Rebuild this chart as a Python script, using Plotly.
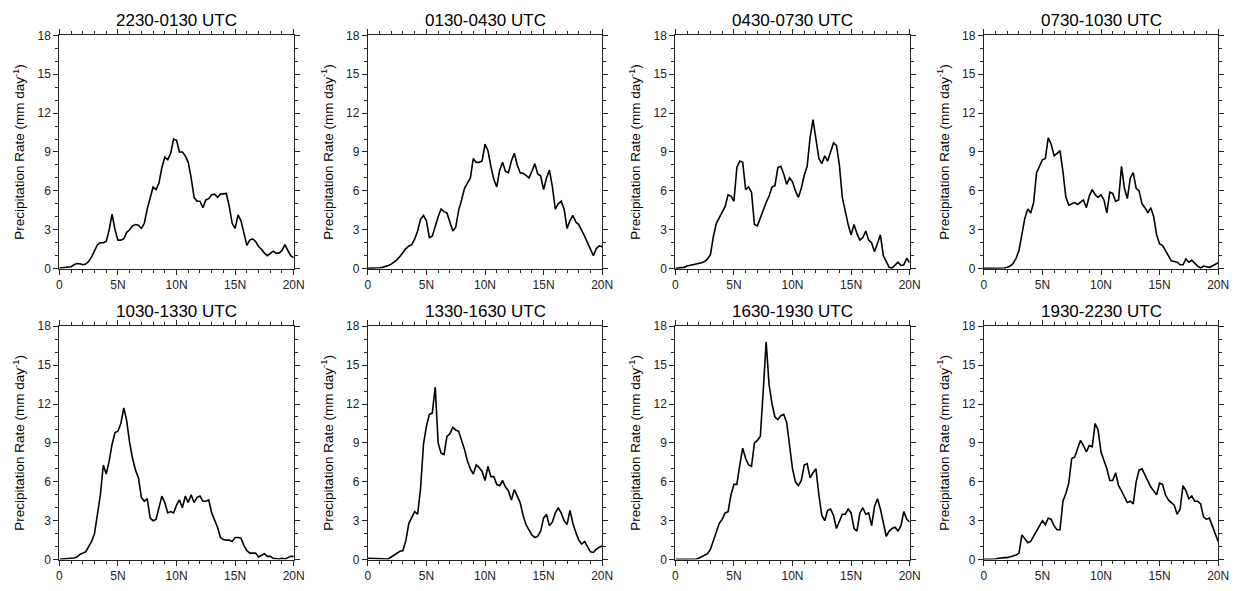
import plotly.graph_objects as go

# Latitude grid (degrees north), 0.25-degree spacing
lat = [i * 0.25 for i in range(81)]

titles = ["2230-0130 UTC", "0130-0430 UTC", "0430-0730 UTC", "0730-1030 UTC",
          "1030-1330 UTC", "1330-1630 UTC", "1630-1930 UTC", "1930-2230 UTC"]

x_tickvals = [0, 5, 10, 15, 20]
x_ticktext = ["0", "5N", "10N", "15N", "20N"]
y_tickvals = [0, 3, 6, 9, 12, 15, 18]

# Zonal-mean precipitation rate (mm/day) for each 3-hour window
p_2230_0130 = [0.05, 0.08, 0.08, 0.1, 0.15, 0.3, 0.4, 0.38, 0.3, 0.35,
               0.55, 0.9, 1.4, 1.85, 2.0, 2.0, 2.1, 3.0, 4.2, 3.0,
               2.2, 2.2, 2.3, 2.8, 3.0, 3.3, 3.4, 3.35, 3.1, 3.5,
               4.6, 5.5, 6.3, 6.1, 6.6, 7.8, 8.6, 8.4, 8.9, 10.0,
               9.9, 9.0, 9.0, 8.7, 8.2, 7.0, 5.5, 5.2, 5.2, 4.7,
               5.3, 5.4, 5.7, 5.75, 5.5, 5.75, 5.8, 5.8, 4.8, 3.5,
               3.1, 4.15, 3.7, 2.7, 1.8, 2.2, 2.3, 2.1, 1.7, 1.5,
               1.2, 1.0, 1.2, 1.35, 1.2, 1.2, 1.4, 1.85, 1.4, 1.0,
               0.85]
p_0130_0430 = [0.02, 0.02, 0.03, 0.05, 0.07, 0.1, 0.15, 0.25, 0.35, 0.5,
               0.7, 0.95, 1.25, 1.55, 1.75, 1.85, 2.3, 2.9, 3.8, 4.1,
               3.7, 2.4, 2.5, 3.3, 4.0, 4.6, 4.4, 4.3, 3.6, 2.9,
               3.2, 4.5, 5.3, 6.2, 6.6, 7.0, 8.5, 8.2, 8.2, 8.3,
               9.6, 9.1, 7.9, 6.9, 6.3, 7.6, 8.2, 7.5, 7.4, 8.3,
               8.9, 8.0, 7.4, 7.35, 7.2, 7.0, 7.5, 8.1, 7.3, 7.15,
               6.1, 7.0, 7.6, 6.3, 4.6, 5.0, 5.2, 4.6, 3.1, 3.7,
               4.1, 3.6, 3.4, 3.0, 2.5, 2.0, 1.5, 1.0, 1.55, 1.75,
               1.7]
p_0430_0730 = [0.02, 0.03, 0.05, 0.1, 0.2, 0.25, 0.3, 0.3, 0.35, 0.45,
               0.55, 0.75, 1.1, 2.5, 3.5, 3.9, 4.3, 4.8, 5.7, 5.6,
               5.2, 7.8, 8.3, 8.2, 6.1, 6.3, 5.9, 3.4, 3.3, 3.9,
               4.6, 5.1, 5.6, 6.3, 6.4, 7.8, 7.9, 7.3, 6.5, 7.0,
               6.7, 6.0, 5.5, 6.2, 7.2, 7.9, 10.1, 11.5, 10.0, 8.5,
               8.1, 8.7, 8.3, 9.1, 9.7, 9.5, 8.0, 5.5, 4.3, 3.4,
               2.6, 3.4, 2.7, 2.2, 2.4, 2.9, 2.2, 2.0, 1.3, 2.0,
               2.6, 1.0, 0.6, 0.1, 0.05, 0.3, 0.5, 0.25, 0.3, 0.8,
               0.45]
p_0730_1030 = [0.02, 0.02, 0.02, 0.02, 0.02, 0.03, 0.03, 0.05, 0.1, 0.2,
               0.4, 0.8, 1.4, 2.8, 3.9, 4.6, 4.3, 5.1, 7.4, 7.9,
               8.4, 8.5, 10.1, 9.6, 8.7, 8.9, 9.1, 7.5, 5.5, 4.9,
               5.0, 5.1, 4.95, 5.1, 5.3, 4.7, 5.6, 6.1, 5.7, 5.5,
               5.7, 5.3, 4.3, 5.9, 5.8, 5.2, 5.3, 7.9, 6.2, 5.4,
               7.0, 7.4, 6.2, 6.0, 5.0, 4.7, 4.3, 4.7, 4.0, 2.6,
               1.9, 1.8, 1.4, 0.9, 0.6, 0.55, 0.5, 0.3, 0.3, 0.75,
               0.5, 0.65, 0.4, 0.2, 0.05, 0.2, 0.15, 0.1, 0.2, 0.3,
               0.45]
p_1030_1330 = [0.02, 0.03, 0.05, 0.08, 0.1, 0.12, 0.2, 0.4, 0.5, 0.6,
               1.0, 1.4, 2.0, 3.4, 5.0, 7.3, 6.6, 7.6, 8.9, 9.8,
               9.9, 10.5, 11.7, 10.7, 9.0, 7.8, 6.9, 6.3, 4.8, 4.5,
               4.7, 3.2, 3.0, 3.1, 4.0, 4.9, 4.4, 3.6, 3.7, 3.6,
               4.2, 4.6, 4.0, 4.9, 4.4, 5.0, 4.4, 4.8, 4.9, 4.5,
               4.5, 4.6, 3.6, 3.0, 2.5, 1.7, 1.55, 1.5, 1.5, 1.4,
               1.7, 1.7, 1.65, 1.1, 0.7, 0.5, 0.5, 0.5, 0.2, 0.3,
               0.45, 0.25, 0.25, 0.1, 0.05, 0.05, 0.1, 0.05, 0.15, 0.25,
               0.25]
p_1330_1630 = [0.1, 0.1, 0.1, 0.05, 0.05, 0.1, 0.05, 0.05, 0.2, 0.35,
               0.5, 0.65, 0.7, 1.5, 2.8, 3.3, 3.7, 3.5, 5.5, 8.9,
               10.3, 11.2, 11.3, 13.3, 9.0, 8.2, 8.1, 9.5, 9.7, 10.2,
               10.0, 9.9, 9.2, 8.5, 7.6, 7.0, 6.6, 7.3, 7.1, 6.8,
               6.1, 7.2, 6.4, 6.4, 5.8, 5.7, 6.1, 5.6, 5.3, 4.6,
               5.4, 4.9, 4.4, 3.4, 2.7, 2.3, 1.9, 1.7, 1.8, 2.2,
               3.2, 3.5, 2.6, 2.9, 3.6, 4.0, 3.6, 3.0, 2.7, 3.8,
               2.8, 2.1, 1.5, 1.2, 1.4, 1.0, 0.6, 0.55, 0.8, 0.95,
               1.05]
p_1630_1930 = [0.02, 0.02, 0.02, 0.02, 0.03, 0.03, 0.05, 0.05, 0.1, 0.2,
               0.3, 0.45, 0.8, 1.5, 2.2, 2.8, 3.1, 3.6, 3.7, 5.0,
               5.8, 5.8, 7.3, 8.6, 7.8, 7.3, 7.2, 9.0, 9.2, 9.5,
               13.0, 16.8, 13.5, 12.0, 11.0, 10.8, 11.1, 11.2, 10.6, 9.0,
               7.0, 6.0, 5.7, 6.1, 7.3, 7.4, 6.3, 6.7, 7.0, 5.0,
               3.4, 3.0, 3.8, 3.9, 3.4, 2.4, 3.0, 3.5, 3.5, 3.9,
               3.6, 2.4, 2.2, 3.6, 4.0, 3.5, 3.6, 2.6, 4.1, 4.7,
               3.9, 2.8, 1.8, 2.2, 2.4, 2.5, 2.2, 2.6, 3.7, 3.1,
               2.9]
p_1930_2230 = [0.02, 0.02, 0.03, 0.03, 0.05, 0.1, 0.15, 0.15, 0.15, 0.2,
               0.3, 0.35, 0.5, 1.9, 1.6, 1.3, 1.4, 1.8, 2.2, 2.6,
               3.0, 2.7, 3.2, 3.1, 2.6, 2.3, 2.3, 4.5, 5.1, 5.9,
               7.8, 7.9, 8.6, 9.2, 8.8, 8.3, 8.8, 8.7, 10.5, 10.0,
               8.3, 7.7, 7.0, 6.1, 6.1, 6.7, 5.7, 5.3, 4.9, 4.4,
               4.5, 4.3, 6.0, 6.9, 7.0, 6.5, 6.0, 5.6, 5.3, 5.0,
               5.9, 5.8, 5.0, 4.6, 4.4, 4.2, 3.5, 3.9, 5.7, 5.3,
               4.7, 4.9, 4.5, 4.5, 4.3, 3.3, 3.1, 3.2, 2.6, 2.0,
               1.4]

series = [p_2230_0130, p_0130_0430, p_0430_0730, p_0730_1030,
          p_1030_1330, p_1330_1630, p_1630_1930, p_1930_2230]

W, H = 1244, 591
FONT = "Liberation Sans, Arial, Helvetica, sans-serif"

# Panel placement in pixels
col_left = [57, 369, 680, 992]
panel_w = 237
row_top = [29, 327]
panel_h = 239

fig = go.Figure()
layout = dict(
    width=W, height=H,
    margin=dict(l=0, r=0, t=0, b=0),
    paper_bgcolor="white", plot_bgcolor="white",
    showlegend=False,
    font=dict(family=FONT, color="black"),
    annotations=[],
)

for k, (title, vals) in enumerate(zip(titles, series)):
    r, c = divmod(k, 4)
    idx = "" if k == 0 else str(k + 1)
    x0 = col_left[c]
    y0 = row_top[r]
    xd = [x0 / W, (x0 + panel_w) / W]
    yd = [1 - (y0 + panel_h) / H, 1 - y0 / H]

    fig.add_trace(go.Scatter(
        x=lat, y=vals, mode="lines",
        line=dict(color="black", width=1.6),
        xaxis="x" + idx, yaxis="y" + idx,
        hoverinfo="skip",
    ))

    common = dict(
        showline=True, linecolor="#222", linewidth=1, mirror="ticks",
        ticks="outside", ticklen=5, tickwidth=1, tickcolor="#222",
        showgrid=False, zeroline=False, fixedrange=True,
        tickfont=dict(family=FONT, size=12, color="#222"),
    )
    layout["xaxis" + idx] = dict(
        common, domain=xd, range=[0, 20], anchor="y" + idx,
        tickmode="array", tickvals=x_tickvals, ticktext=x_ticktext,
        minor=dict(ticks="outside", ticklen=3, dtick=1, tickcolor="#222",
                   showgrid=False),
    )
    layout["yaxis" + idx] = dict(
        common, domain=yd, range=[0, 18], anchor="x" + idx,
        tickmode="array", tickvals=y_tickvals,
        minor=dict(ticks="outside", ticklen=3, dtick=1, tickcolor="#222",
                   showgrid=False),
        title=dict(text="Precipitation Rate (mm day<sup>-1</sup>)",
                   font=dict(family=FONT, size=13.5, color="black"),
                   standoff=9),
    )
    layout["annotations"].append(dict(
        text=title, showarrow=False,
        x=(xd[0] + xd[1]) / 2, xref="paper", xanchor="center",
        y=1 - (y0 - 15) / H, yref="paper", yanchor="middle",
        font=dict(family=FONT, size=17, color="black"),
    ))

fig.update_layout(**layout)
fig.write_html("out.html")
